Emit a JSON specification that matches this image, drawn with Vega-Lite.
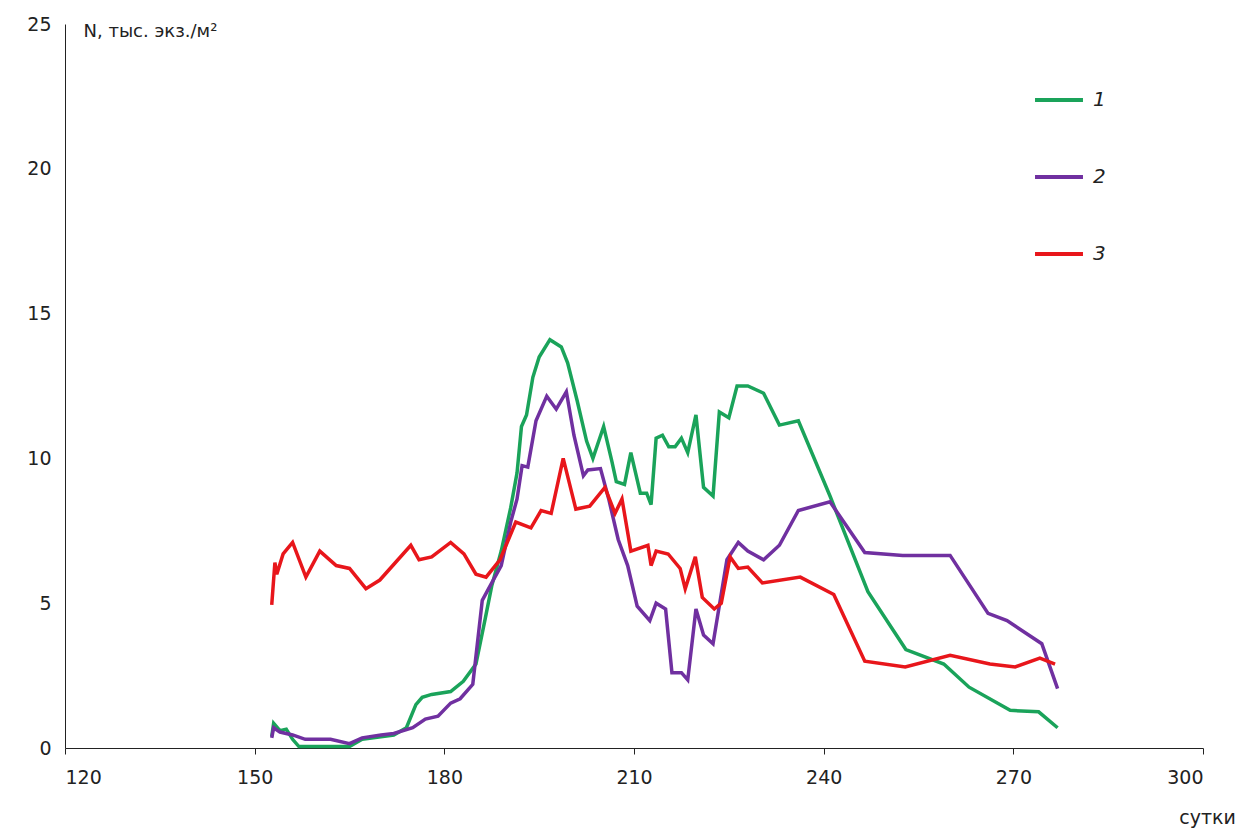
{
  "$schema": "https://vega.github.io/schema/vega-lite/v6.json",
  "width": 1138,
  "height": 724,
  "autosize": "none",
  "padding": {"left": 65, "top": 24, "right": 44, "bottom": 84},
  "background": "white",
  "config": {"view": {"stroke": null}, "font": "DejaVu Sans"},
  "datasets": {
    "s1": [
      {"d":152.7,"n":0.4},{"d":153.0,"n":0.85},{"d":154,"n":0.6},{"d":155,"n":0.65},{"d":156,"n":0.3},{"d":157,"n":0.05},{"d":160,"n":0.05},{"d":165,"n":0.05},{"d":167,"n":0.3},{"d":172,"n":0.45},{"d":174,"n":0.7},{"d":175.5,"n":1.5},{"d":176.5,"n":1.75},{"d":178,"n":1.85},{"d":181,"n":1.95},{"d":183,"n":2.3},{"d":185,"n":2.9},{"d":186.5,"n":4.5},{"d":187.5,"n":5.6},{"d":189,"n":6.8},{"d":190.5,"n":8.3},{"d":191.5,"n":9.5},{"d":192.2,"n":11.1},{"d":193,"n":11.5},{"d":194,"n":12.8},{"d":195,"n":13.5},{"d":196.7,"n":14.1},{"d":198.5,"n":13.85},{"d":199.5,"n":13.3},{"d":201,"n":12},{"d":202.5,"n":10.6},{"d":203.5,"n":10.0},{"d":205.2,"n":11.1},{"d":206.5,"n":9.9},{"d":207.2,"n":9.2},{"d":208.5,"n":9.1},{"d":209.5,"n":10.2},{"d":211,"n":8.8},{"d":212,"n":8.8},{"d":212.7,"n":8.4},{"d":213.5,"n":10.7},{"d":214.5,"n":10.8},{"d":215.5,"n":10.4},{"d":216.5,"n":10.4},{"d":217.5,"n":10.7},{"d":218.5,"n":10.2},{"d":219.8,"n":11.5},{"d":221,"n":9.0},{"d":222.5,"n":8.7},{"d":223.5,"n":11.6},{"d":225,"n":11.4},{"d":226.3,"n":12.5},{"d":228,"n":12.5},{"d":230.5,"n":12.25},{"d":233,"n":11.15},{"d":236,"n":11.3},{"d":241,"n":8.7},{"d":247,"n":5.4},{"d":253,"n":3.4},{"d":259,"n":2.9},{"d":263,"n":2.1},{"d":269.5,"n":1.3},{"d":274,"n":1.25},{"d":277,"n":0.7}
    ],
    "s2": [
      {"d":152.7,"n":0.35},{"d":153,"n":0.7},{"d":154,"n":0.55},{"d":156,"n":0.45},{"d":158,"n":0.3},{"d":162,"n":0.3},{"d":165,"n":0.15},{"d":167,"n":0.35},{"d":170,"n":0.45},{"d":172,"n":0.5},{"d":175,"n":0.7},{"d":177,"n":1.0},{"d":179,"n":1.1},{"d":181,"n":1.55},{"d":182.5,"n":1.7},{"d":184.5,"n":2.2},{"d":186,"n":5.1},{"d":187.5,"n":5.7},{"d":189,"n":6.3},{"d":190.5,"n":7.8},{"d":191.5,"n":8.6},{"d":192.3,"n":9.75},{"d":193.2,"n":9.7},{"d":194.5,"n":11.3},{"d":196.2,"n":12.15},{"d":197.7,"n":11.7},{"d":199.3,"n":12.3},{"d":200.5,"n":10.8},{"d":202,"n":9.4},{"d":202.7,"n":9.6},{"d":204.7,"n":9.65},{"d":206,"n":8.6},{"d":207.5,"n":7.2},{"d":209,"n":6.3},{"d":210.5,"n":4.9},{"d":212.5,"n":4.4},{"d":213.5,"n":5.0},{"d":215,"n":4.8},{"d":216,"n":2.6},{"d":217.5,"n":2.6},{"d":218.5,"n":2.35},{"d":219.8,"n":4.8},{"d":221,"n":3.9},{"d":222.5,"n":3.6},{"d":224.7,"n":6.5},{"d":226.5,"n":7.1},{"d":228,"n":6.8},{"d":230.5,"n":6.5},{"d":233,"n":7.0},{"d":236,"n":8.2},{"d":241,"n":8.5},{"d":246.5,"n":6.75},{"d":252.5,"n":6.65},{"d":260,"n":6.65},{"d":266,"n":4.65},{"d":269,"n":4.4},{"d":274.5,"n":3.6},{"d":277,"n":2.05}
    ],
    "s3": [
      {"d":152.7,"n":4.94},{"d":153.2,"n":6.4},{"d":153.5,"n":6.0},{"d":154.5,"n":6.7},{"d":156,"n":7.1},{"d":158.1,"n":5.9},{"d":160.3,"n":6.8},{"d":162.9,"n":6.3},{"d":165,"n":6.2},{"d":167.6,"n":5.5},{"d":169.8,"n":5.8},{"d":174.7,"n":7.0},{"d":176,"n":6.5},{"d":178,"n":6.6},{"d":181,"n":7.1},{"d":183.1,"n":6.7},{"d":185,"n":6.0},{"d":186.6,"n":5.9},{"d":188.8,"n":6.5},{"d":191.3,"n":7.8},{"d":193.7,"n":7.6},{"d":195.3,"n":8.2},{"d":196.9,"n":8.1},{"d":198.8,"n":10.0},{"d":200.8,"n":8.25},{"d":203,"n":8.35},{"d":205.4,"n":9.0},{"d":207,"n":8.1},{"d":208.1,"n":8.6},{"d":209.5,"n":6.8},{"d":212.2,"n":7.0},{"d":212.7,"n":6.3},{"d":213.5,"n":6.8},{"d":215.4,"n":6.7},{"d":217.3,"n":6.2},{"d":218.1,"n":5.5},{"d":219.7,"n":6.6},{"d":220.8,"n":5.2},{"d":222.7,"n":4.8},{"d":223.8,"n":5.0},{"d":225.2,"n":6.6},{"d":226.5,"n":6.2},{"d":228,"n":6.25},{"d":230.3,"n":5.7},{"d":236.3,"n":5.9},{"d":241.6,"n":5.3},{"d":246.5,"n":3.0},{"d":252.9,"n":2.8},{"d":260,"n":3.2},{"d":266.3,"n":2.9},{"d":270.3,"n":2.8},{"d":274.2,"n":3.1},{"d":276.6,"n":2.9}
    ]
  },
  "layer": [
    {"data": {"name": "s1"}, "transform": [{"calculate": "'1'", "as": "s"}], "mark": {"type": "line", "strokeWidth": 3.5}, "encoding": {}},
    {"data": {"name": "s2"}, "transform": [{"calculate": "'2'", "as": "s"}], "mark": {"type": "line", "strokeWidth": 3.5}, "encoding": {}},
    {"data": {"name": "s3"}, "transform": [{"calculate": "'3'", "as": "s"}], "mark": {"type": "line", "strokeWidth": 3.5}, "encoding": {}}
  ],
  "encoding": {
    "x": {"field": "d", "type": "quantitative", "scale": {"domain": [120, 300], "nice": false, "zero": false},
      "axis": {"values": [120, 150, 180, 210, 240, 270, 300], "grid": false, "title": "сутки", "titleX": 1142, "titleY": 60, "titleFontWeight": "normal", "titleFontSize": 19, "titleAlign": "center", "titleColor": "#222", "labelFontSize": 19, "labelColor": "#222", "labelPadding": 14, "tickSize": 6, "domainColor": "#222", "tickColor": "#222"}},
    "y": {"field": "n", "type": "quantitative", "scale": {"domain": [0, 25], "nice": false},
      "axis": {"values": [0, 5, 10, 15, 20, 25], "grid": false, "title": "N, тыс. экз./м²", "titleAngle": 0, "titleX": 18, "titleY": 16, "titleAlign": "left", "titleFontWeight": "normal", "titleFontSize": 18, "titleColor": "#222", "labelFontSize": 19, "labelColor": "#222", "labelPadding": 14, "ticks": false, "domainColor": "#222"}},
    "color": {"field": "s", "type": "nominal", "scale": {"domain": ["1", "2", "3"], "range": ["#1aa35a", "#7030a0", "#e8161b"]},
      "legend": {"title": null, "orient": "none", "legendX": 968, "legendY": 50, "symbolType": "stroke", "symbolSize": 2300, "symbolStrokeWidth": 4, "rowPadding": 41, "labelFontSize": 20, "labelFontStyle": "italic", "labelColor": "#222", "labelOffset": 8}}
  }
}
